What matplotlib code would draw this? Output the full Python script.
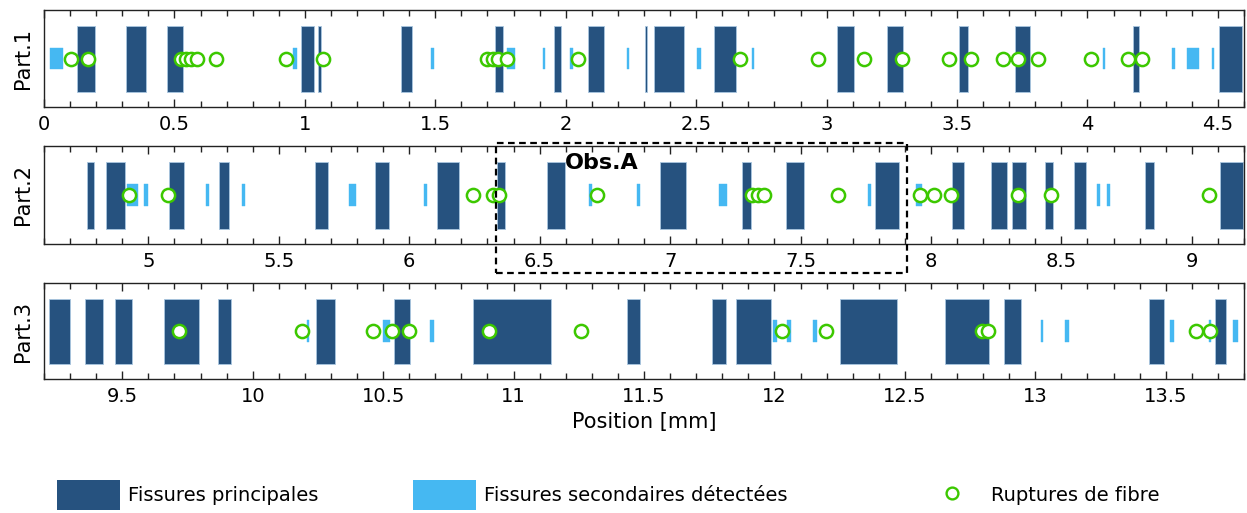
import matplotlib
matplotlib.use('Agg')
import matplotlib.pyplot as plt
from matplotlib.patches import Rectangle, Patch
from matplotlib.lines import Line2D
from matplotlib.ticker import MultipleLocator, FormatStrFormatter
import matplotlib.transforms as mtransforms

# Fissures principales (start, end) in mm
main_cracks = [
    (0.128, 0.195), (0.313, 0.390), (0.470, 0.533), (0.984, 1.036), (1.049, 1.061),
    (1.369, 1.409), (1.730, 1.760), (1.954, 1.983), (2.087, 2.148), (2.305, 2.312),
    (2.340, 2.453), (2.567, 2.653), (3.041, 3.104), (3.233, 3.294), (3.509, 3.542),
    (3.722, 3.779), (4.173, 4.197), (4.503, 4.591),
    (4.766, 4.790), (4.838, 4.909), (5.080, 5.137), (5.270, 5.308), (5.640, 5.689),
    (5.870, 5.921), (6.108, 6.192), (6.338, 6.368), (6.527, 6.596), (6.962, 7.062),
    (7.277, 7.309), (7.443, 7.514), (7.785, 7.879), (8.079, 8.127), (8.231, 8.291),
    (8.312, 8.363), (8.437, 8.469), (8.547, 8.593), (8.820, 8.854), (9.107, 9.197),
    (9.220, 9.301), (9.358, 9.425), (9.471, 9.539), (9.661, 9.795), (9.866, 9.918),
    (10.241, 10.317), (10.540, 10.602), (10.846, 11.145), (11.435, 11.486),
    (11.762, 11.814), (11.853, 11.986), (12.253, 12.471), (12.655, 12.822),
    (12.879, 12.946), (13.436, 13.492), (13.688, 13.730),
]

# Fissures secondaires détectées (start, end) in mm
secondary_cracks = [
    (0.023, 0.072), (0.956, 0.971), (1.483, 1.496), (1.774, 1.806), (1.912, 1.920),
    (2.016, 2.029), (2.236, 2.244), (2.502, 2.519), (2.714, 2.723), (4.059, 4.068),
    (4.325, 4.334), (4.383, 4.426), (4.477, 4.485),
    (4.919, 4.962), (4.983, 4.997), (5.222, 5.231), (5.360, 5.369), (5.769, 5.797),
    (6.058, 6.067), (6.689, 6.699), (6.873, 6.885), (7.186, 7.219), (7.757, 7.769),
    (7.943, 7.964), (8.637, 8.648), (8.675, 8.686),
    (10.208, 10.217), (10.498, 10.526), (10.678, 10.696), (11.996, 12.008),
    (12.049, 12.062), (12.149, 12.164), (13.022, 13.031), (13.112, 13.130),
    (13.516, 13.533), (13.665, 13.672), (13.759, 13.777),
]

# Ruptures de fibre (positions in mm)
fiber_breaks = [
    0.104, 0.167, 0.525, 0.545, 0.565, 0.588, 0.659, 0.926, 1.068,
    1.700, 1.720, 1.740, 1.776, 2.046, 2.668, 2.966, 3.143, 3.290, 3.470, 3.553,
    3.675, 3.735, 3.809, 4.013, 4.157, 4.208,
    4.925, 5.075, 6.246, 6.320, 6.345, 6.719, 7.313, 7.338, 7.360, 7.645,
    7.958, 8.013, 8.077, 8.335, 8.460, 9.067,
    9.717, 10.190, 10.462, 10.535, 10.600, 10.905, 11.258, 12.030, 12.196,
    12.794, 12.820, 13.615, 13.670,
]

part_labels = ['Part.1', 'Part.2', 'Part.3']
part_ranges = [(0.0, 4.6), (4.6, 9.2), (9.2, 13.8)]
obs_a_range = (6.334, 7.907)

dark_blue = '#26527f'
light_blue = '#45b8f2'
green = '#3cc800'

fig = plt.figure(figsize=(12.47, 5.13), dpi=100)
axes_pos = [
    [0.0353, 0.7914, 0.9623, 0.189],
    [0.0353, 0.5244, 0.9623, 0.191],
    [0.0353, 0.2612, 0.9623, 0.187],
]

axes = []
for i, pos in enumerate(axes_pos):
    ax = fig.add_axes(pos)
    axes.append(ax)

    ax.bar(x=[s for s, e in main_cracks], height=0.68,
           width=[e - s for s, e in main_cracks], bottom=0.155, align='edge',
           color=dark_blue, edgecolor='#a9c6e0', linewidth=0.6, zorder=2)
    ax.bar(x=[s for s, e in secondary_cracks], height=0.22,
           width=[e - s for s, e in secondary_cracks], bottom=0.39, align='edge',
           color=light_blue, edgecolor=light_blue, linewidth=0.3, zorder=3)
    ax.plot(fiber_breaks, [0.5] * len(fiber_breaks), 'o', ms=9.5, mew=1.8,
            mec=green, mfc='white', zorder=4)

    ax.set_xlim(*part_ranges[i])
    ax.set_ylim(0, 1)
    ax.set_yticks([])
    ax.xaxis.set_major_locator(MultipleLocator(0.5))
    ax.xaxis.set_minor_locator(MultipleLocator(0.1))
    ax.xaxis.set_major_formatter(FormatStrFormatter('%g'))
    ax.tick_params(axis='x', which='both', direction='in', top=True, bottom=True,
                   width=1.0, color='#222222', labelsize=14, pad=6)
    ax.tick_params(axis='x', which='major', length=6)
    ax.tick_params(axis='x', which='minor', length=4)
    for sp in ax.spines.values():
        sp.set_linewidth(1.0)
        sp.set_color('#222222')
    ax.set_ylabel(part_labels[i], fontsize=15, labelpad=8)

axes[2].set_xlabel('Position [mm]', fontsize=15, labelpad=4)

# Obs.A box on part 2
ax2 = axes[1]
trans = mtransforms.blended_transform_factory(ax2.transData, ax2.transAxes)
box = Rectangle((obs_a_range[0], -0.293), obs_a_range[1] - obs_a_range[0], 1.327,
                transform=trans, fill=False, edgecolor='black', linestyle=(0, (3, 2)),
                linewidth=1.6, clip_on=False, zorder=10)
ax2.add_patch(box)
ax2.text(6.597, 0.83, 'Obs.A', transform=trans, fontsize=16, fontweight='bold',
         ha='left', va='center', zorder=11)

# Legend, three entries placed along the bottom
legend_y = 1 - 495 / 513
entries = [
    (Patch(facecolor=dark_blue), 'Fissures principales', 57, 2.0),
    (Patch(facecolor=light_blue), 'Fissures secondaires détectées', 413, 2.0),
    (Line2D([], [], marker='o', ls='none', ms=8.5, mew=1.7, mec=green, mfc='white'),
     'Ruptures de fibre', 920, 1.0),
]
for handle, label, xpx, hh in entries:
    fig.legend(handles=[handle], labels=[label], loc='center left',
               bbox_to_anchor=(xpx / 1247, legend_y), frameon=False, fontsize=14,
               handlelength=3.24, handleheight=hh, handletextpad=0.4,
               borderpad=0, borderaxespad=0)

plt.savefig('out.png', dpi=100)
